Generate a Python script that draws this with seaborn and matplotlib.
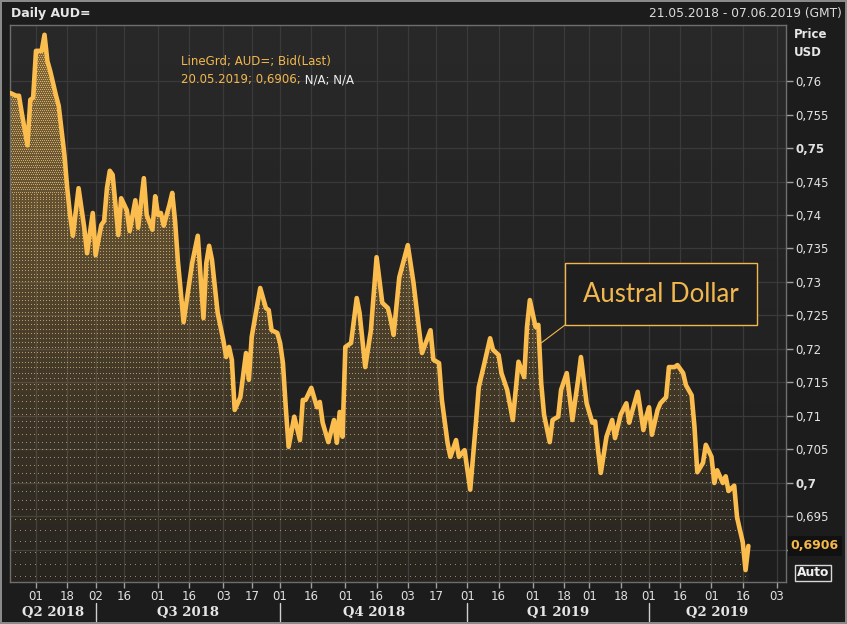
import numpy as np
import pandas as pd
import matplotlib
matplotlib.use("Agg")
import matplotlib.pyplot as plt
import matplotlib.transforms as mtransforms
from matplotlib.patches import Rectangle
from matplotlib.lines import Line2D
import seaborn as sns

# ---------------- data ----------------
START = "2018-05-21"          # first trading day shown
AXIS_END = "2019-06-07"       # end of the axis
trading_day = [0, 2, 3, 4, 6, 7, 8, 9, 11, 12, 13, 14, 15, 16, 17, 19, 20, 21, 22, 24,
               25, 26, 27, 29, 30, 32, 33, 34, 35, 36, 38, 39, 41, 42, 44, 45, 47, 48, 50, 51,
               52, 53, 54, 56, 57, 58, 59, 61, 64, 66, 68, 69, 70, 71, 73, 75, 76, 77, 78, 79,
               81, 83, 84, 85, 88, 90, 91, 92, 94, 95, 96, 97, 98, 100, 102, 103, 104, 106, 108, 109,
               110, 112, 114, 115, 116, 117, 118, 120, 122, 123, 125, 127, 129, 131, 133, 134, 135, 137, 140, 142,
               144, 145, 148, 149, 151, 152, 154, 155, 157, 158, 160, 161, 162, 164, 165, 167, 169, 170, 172, 173,
               175, 177, 179, 181, 182, 183, 185, 186, 187, 188, 190, 191, 193, 194, 196, 198, 200, 201, 203, 205,
               206, 207, 208, 210, 212, 213, 215, 217, 218, 219, 221, 223, 224, 225, 226, 228, 229, 231, 232, 234,
               235, 237, 238, 240, 241, 242, 244, 245, 247, 248, 249, 251, 252, 253, 255, 256, 257, 258, 259, 260]
bid = [0.7582, 0.7578, 0.7578, 0.7552, 0.7504, 0.7572, 0.7575, 0.7645, 0.7645, 0.7669,
       0.7630, 0.7615, 0.7597, 0.7579, 0.7563, 0.7490, 0.7440, 0.7400, 0.7369, 0.7440,
       0.7410, 0.7381, 0.7343, 0.7403, 0.7340, 0.7385, 0.7391, 0.7440, 0.7466, 0.7460,
       0.7370, 0.7425, 0.7407, 0.7376, 0.7422, 0.7381, 0.7455, 0.7400, 0.7378, 0.7428,
       0.7400, 0.7403, 0.7384, 0.7415, 0.7433, 0.7391, 0.7331, 0.7240, 0.7328, 0.7369,
       0.7246, 0.7328, 0.7354, 0.7333, 0.7254, 0.7213, 0.7188, 0.7203, 0.7184, 0.7109,
       0.7128, 0.7194, 0.7154, 0.7218, 0.7291, 0.7261, 0.7258, 0.7228, 0.7224, 0.7209,
       0.7179, 0.7113, 0.7054, 0.7099, 0.7064, 0.7124, 0.7124, 0.7142, 0.7113, 0.7121,
       0.7090, 0.7061, 0.7094, 0.7060, 0.7106, 0.7069, 0.7203, 0.7209, 0.7276, 0.7254,
       0.7173, 0.7228, 0.7337, 0.7269, 0.7261, 0.7243, 0.7221, 0.7307, 0.7355, 0.7299,
       0.7228, 0.7194, 0.7228, 0.7184, 0.7179, 0.7124, 0.7060, 0.7039, 0.7064, 0.7039,
       0.7049, 0.7019, 0.6990, 0.7090, 0.7143, 0.7179, 0.7216, 0.7199, 0.7191, 0.7164,
       0.7139, 0.7094, 0.7181, 0.7158, 0.7233, 0.7273, 0.7233, 0.7236, 0.7149, 0.7102,
       0.7061, 0.7094, 0.7099, 0.7139, 0.7164, 0.7094, 0.7154, 0.7188, 0.7119, 0.7090,
       0.7092, 0.7050, 0.7015, 0.7069, 0.7094, 0.7067, 0.7102, 0.7119, 0.7090, 0.7106,
       0.7136, 0.7079, 0.7099, 0.7113, 0.7072, 0.7109, 0.7119, 0.7128, 0.7173, 0.7173,
       0.7176, 0.7164, 0.7146, 0.7131, 0.7084, 0.7016, 0.7030, 0.7057, 0.7039, 0.7000,
       0.7019, 0.7000, 0.7010, 0.6988, 0.6996, 0.6949, 0.6930, 0.6912, 0.6870, 0.6906]

tick_dates = ["2018-06-01", "2018-06-18", "2018-07-02", "2018-07-16", "2018-08-01",
              "2018-08-16", "2018-09-03", "2018-09-17", "2018-10-01", "2018-10-16",
              "2018-11-01", "2018-11-16", "2018-12-03", "2018-12-17", "2019-01-01",
              "2019-01-16", "2019-02-01", "2019-02-18", "2019-03-01", "2019-03-18",
              "2019-04-01", "2019-04-16", "2019-05-01", "2019-05-16", "2019-06-03"]
quarter_starts = ["2018-07-02", "2018-10-01", "2019-01-01", "2019-04-01"]
quarter_labels = ["Q2 2018", "Q3 2018", "Q4 2018", "Q1 2019", "Q2 2019"]
y_ticks = [0.69, 0.695, 0.70, 0.705, 0.71, 0.715, 0.72, 0.725, 0.73, 0.735,
           0.74, 0.745, 0.75, 0.755, 0.76]
bold_ticks = [0.70, 0.75]
last_value = 0.6906
title_left = "Daily AUD="
title_right = "21.05.2018 - 07.06.2019 (GMT)"
legend_line1 = "LineGrd; AUD=; Bid(Last)"
legend_line2a = "20.05.2019; 0,6906;"
legend_line2b = " N/A; N/A"
callout = "Austral Dollar"

# ---------------- style ----------------
GOLD = "#fbbd4e"
TXT_GOLD = "#f2b84f"
FIG_BG = "#1c1c1c"
GRID = "#3a3a3a"
W_PX, H_PX = 847, 624

sns.set_theme(style="dark")
plt.rcParams["font.family"] = ["DejaVu Sans"]
plt.rcParams["axes.unicode_minus"] = False

fig = plt.figure(figsize=(W_PX / 100, H_PX / 100), dpi=100, facecolor=FIG_BG)
fig.patch.set_edgecolor("#8a8a8a")
fig.patch.set_linewidth(1.5)

def fx(px):
    return px / W_PX

def fy(py):
    return 1 - py / H_PX

ax = fig.add_axes([fx(10), fy(582), (786 - 10) / W_PX, (582 - 25) / H_PX])
ax.set_facecolor("#232323")

x_lim = (-0.16, 273.25)
y_lim = (0.68522, 0.76836)

# background gradient
g = np.linspace(0, 1, 256)[:, None, None]
top_c = np.array([0.16, 0.16, 0.16])[None, None, :]
bot_c = np.array([0.115, 0.115, 0.115])[None, None, :]
bg = np.concatenate([top_c * (1 - g) + bot_c * g, np.ones((256, 1, 1))], axis=2)
bg = np.repeat(bg, 2, axis=1)
ax.imshow(bg, extent=[*x_lim, *y_lim], aspect="auto", origin="upper",
          interpolation="bilinear", zorder=0)

# grid
x_tick_idx = [int(np.busday_count(START, d)) for d in tick_dates]
for xi in x_tick_idx:
    ax.axvline(xi, color=GRID, lw=0.9, zorder=0.5)
for yv in y_ticks:
    ax.axhline(yv, color=GRID, lw=0.9, zorder=0.5)

# dotted, fading fill beneath the line
H, W = 557, 776
rows = np.arange(H)
frac = rows / (H - 1)
tex = np.zeros((H, W, 4))
tex[:, :, 0] = 0.98
tex[:, :, 1] = 0.74
tex[:, :, 2] = 0.32
tex[:, :, 3] = (0.40 * (1 - frac) ** 1.3 + 0.05)[:, None]
sy = 2 + 11 * frac ** 2.5
phase = np.cumsum(1 / sy)
rowid = np.floor(phase).astype(int)
is_dot_row = np.r_[True, rowid[1:] != rowid[:-1]]
sx = np.rint(2 + 3 * frac ** 1.5).astype(int)
cols = np.arange(W)
for r in rows[is_dot_row]:
    off = rowid[r] % 2 if sx[r] == 2 else 0
    mask = ((cols + off) % sx[r]) == 0
    tex[r, mask, 0] = 1.0
    tex[r, mask, 1] = 0.80 + 0.08 * frac[r]
    tex[r, mask, 2] = 0.42 + 0.25 * frac[r]
    tex[r, mask, 3] = 0.85 - 0.30 * frac[r]
poly = ax.fill_between(trading_day, bid, y_lim[0], color="none", lw=0)
im = ax.imshow(tex, extent=[*x_lim, *y_lim], aspect="auto", origin="upper",
               interpolation="nearest", zorder=1)
im.set_clip_path(poly.get_paths()[0], transform=ax.transData)

# the line
df = pd.DataFrame({"day": trading_day, "bid": bid})
sns.lineplot(data=df, x="day", y="bid", color=GOLD, linewidth=3.3, ax=ax,
             zorder=3, solid_joinstyle="round", solid_capstyle="round")

ax.set_xlim(*x_lim)
ax.set_ylim(*y_lim)
ax.set_xlabel("")
ax.set_ylabel("")

for s in ax.spines.values():
    s.set_visible(True)
    s.set_color("#6e6e6e")
    s.set_linewidth(1)

# x axis
ax.set_xticks(x_tick_idx)
ax.set_xticklabels([d[-2:] for d in tick_dates])
ax.tick_params(axis="x", bottom=True, direction="out", length=4, width=1,
               color="#a0a0a0", labelcolor="#e2e2e2", labelsize=8.5, pad=1.5)

# y axis on the right (the 0,69 label sits hidden under the last-value box)
ax.yaxis.tick_right()
ax.set_yticks(y_ticks)
ax.set_yticklabels(["" if abs(v - 0.69) < 1e-9 else f"{v:g}".replace(".", ",")
                    for v in y_ticks])
ax.tick_params(axis="y", right=True, left=False, direction="out", length=5, width=1,
               color="#a0a0a0", labelcolor="#e2e2e2", labelsize=8.5, pad=2)
for lab, v in zip(ax.get_yticklabels(), y_ticks):
    if any(abs(v - b) < 1e-9 for b in bold_ticks):
        lab.set_fontweight("bold")

# quarter labels & separators
q_idx = [int(np.busday_count(START, d)) for d in quarter_starts]
bounds = [x_lim[0]] + q_idx + [x_lim[1]]
blend = mtransforms.blended_transform_factory(ax.transData, fig.transFigure)
for i, lab in enumerate(quarter_labels):
    c = (bounds[i] + bounds[i + 1]) / 2
    ax.text(c, fy(612), lab, transform=blend, ha="center", va="center",
            fontsize=9.5, fontweight="bold", family="DejaVu Serif", color="#e6e6e6",
            clip_on=False)
for q in q_idx:
    ax.add_line(Line2D([q, q], [fy(603), fy(621)], transform=blend, color="#cfcfcf",
                       lw=1, clip_on=False))

# titles
fig.text(fx(11), fy(14), title_left, ha="left", va="center", fontsize=9,
         fontweight="bold", color="#e6e6e6")
fig.text(fx(842), fy(14), title_right, ha="right", va="center", fontsize=8.8,
         color="#dcdcdc")
fig.text(fx(794), fy(35), "Price", ha="left", va="center", fontsize=8.5,
         fontweight="bold", color="#e6e6e6")
fig.text(fx(794), fy(53), "USD", ha="left", va="center", fontsize=8.5,
         fontweight="bold", color="#e6e6e6")

# legend text
t1 = fig.text(fx(181), fy(62), legend_line1, ha="left", va="center", fontsize=8.5,
              color=TXT_GOLD)
t2 = fig.text(fx(181), fy(80), legend_line2a, ha="left", va="center", fontsize=8.5,
              color=TXT_GOLD)
ax.annotate(legend_line2b, xy=(1, 0), xycoords=t2, ha="left", va="bottom",
            fontsize=8.5, color="#f0f0f0", annotation_clip=False)

# last value marker on the right axis
lv_tr = mtransforms.blended_transform_factory(ax.transAxes, ax.transData)
ax.text(1.006, last_value, f"{last_value:.4f}".replace(".", ","), transform=lv_tr,
        ha="left", va="center", fontsize=9, fontweight="bold", color="#f6b84a",
        bbox=dict(boxstyle="square,pad=0.25", fc="#111111", ec="none"),
        clip_on=False, zorder=10)

# Auto box
fig.text(fx(813), fy(573), "Auto", ha="center", va="center", fontsize=8.8,
         fontweight="bold", color="#f0f0f0",
         bbox=dict(boxstyle="square,pad=0.15", fc="none", ec="#d8d8d8", lw=1))

# callout
fig.patches.append(Rectangle((fx(565), fy(325)), (757 - 565) / W_PX, (325 - 263) / H_PX,
                             transform=fig.transFigure, fc="#1e1e1e", ec=TXT_GOLD,
                             lw=1, zorder=5))
fig.text(fx(661), fy(294), callout, ha="center", va="center", fontsize=18.5,
         family="Lato", color=TXT_GOLD, zorder=6)
ax.annotate("", xy=(187.0, 0.7209), xycoords="data",
            xytext=(fx(565), fy(325)), textcoords="figure fraction",
            arrowprops=dict(arrowstyle="-", color=TXT_GOLD, lw=0.8,
                            shrinkA=0, shrinkB=0), zorder=6)

fig.savefig("out.png", dpi=100, facecolor=FIG_BG, edgecolor=fig.patch.get_edgecolor())
